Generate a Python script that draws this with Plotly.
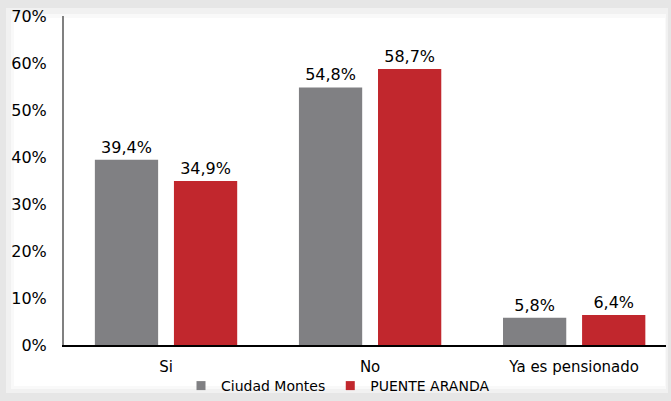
import plotly.graph_objects as go

categories = ["Si", "No", "Ya es pensionado"]
series_names = ["Ciudad Montes", "PUENTE ARANDA"]
ciudad_montes = [39.4, 54.8, 5.8]
puente_aranda = [34.9, 58.7, 6.4]
y_ticks = [0, 10, 20, 30, 40, 50, 60, 70]
y_tick_labels = [f"{t}%" for t in y_ticks]

colors = ["#808083", "#c1272d"]
FONT = "DejaVu Sans"

W, H = 671, 401
L, R, T, B = 64, 5, 16, 56
pw, ph = W - L - R, H - T - B


def fmt(v):
    return f"{v:.1f}%".replace(".", ",")


fig = go.Figure()
for name, vals, c in zip(series_names, [ciudad_montes, puente_aranda], colors):
    fig.add_trace(go.Bar(
        x=categories, y=vals, name=name, marker=dict(color=c, line=dict(width=0)),
        text=[fmt(v) for v in vals], textposition="outside", cliponaxis=False,
        textfont=dict(family=FONT, size=16, color="#000000"),
        showlegend=False,
    ))
    fig.add_trace(go.Scatter(
        x=[None], y=[None], mode="markers", name=name,
        marker=dict(symbol="square", size=9, color=c), showlegend=True,
    ))


def px2x(px):
    return (px - L) / pw


def py2y(py):
    return (H - B - py) / ph


shapes = [
    dict(type="rect", xref="paper", yref="paper", layer="below",
         x0=px2x(6), x1=px2x(668), y0=py2y(393), y1=py2y(8),
         fillcolor="#f1f1f1", line=dict(width=0)),
    dict(type="rect", xref="paper", yref="paper", layer="below",
         x0=px2x(11), x1=px2x(666), y0=py2y(389), y1=py2y(14),
         fillcolor="#f9f9f9", line=dict(width=0)),
    dict(type="rect", xref="paper", yref="paper", layer="below",
         x0=px2x(14), x1=px2x(665), y0=py2y(386), y1=py2y(18),
         fillcolor="#ffffff", line=dict(width=0)),
]

fig.update_layout(
    width=W, height=H,
    margin=dict(l=L, r=R, t=T, b=B, autoexpand=False),
    paper_bgcolor="#e6e6e6", plot_bgcolor="rgba(0,0,0,0)",
    barmode="group", bargap=0.225, bargroupgap=0.2,
    font=dict(family=FONT, size=14, color="#000000"),
    shapes=shapes,
    showlegend=True,
    legend=dict(orientation="h", xref="container", yref="container",
                x=181 / W, xanchor="left", y=1 - 386 / H, yanchor="middle",
                font=dict(family=FONT, size=14), bgcolor="rgba(0,0,0,0)",
                itemwidth=30, tracegroupgap=0),
    xaxis=dict(range=[-0.5, 2.45], showline=True, linecolor="#000000", linewidth=1.5,
               ticks="", showgrid=False, zeroline=False, automargin=False,
               tickfont=dict(family=FONT, size=15), ticklabelstandoff=7, fixedrange=True),
    yaxis=dict(range=[0, 70], tickvals=y_ticks, ticktext=y_tick_labels,
               showline=True, linecolor="#808080", linewidth=2,
               ticks="", showgrid=False, zeroline=False, automargin=False,
               tickfont=dict(family=FONT, size=16), ticklabelstandoff=12, fixedrange=True),
)

fig.write_html(
    "out.html",
    config={"displayModeBar": False},
    post_script="document.body.style.margin='0';document.body.style.overflow='hidden';",
)
